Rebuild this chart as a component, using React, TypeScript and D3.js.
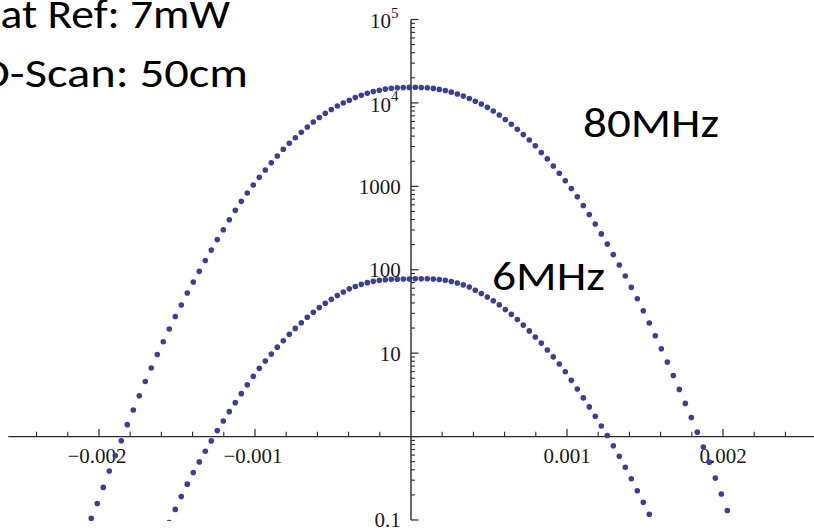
import React from "react";
import * as d3 from "d3";

// Scan positions (shared sampling grid of both series)
const positions = [
  -2.0494e-3, -2.0109e-3, -1.9725e-3, -1.934e-3, -1.8955e-3, -1.8571e-3, -1.8186e-3, -1.7802e-3, -1.7417e-3, -1.7032e-3,
  -1.6648e-3, -1.6263e-3, -1.5878e-3, -1.5494e-3, -1.5109e-3, -1.4725e-3, -1.434e-3, -1.3955e-3, -1.3571e-3, -1.3186e-3,
  -1.2802e-3, -1.2417e-3, -1.2032e-3, -1.1647e-3, -1.1263e-3, -1.0878e-3, -1.0494e-3, -1.0109e-3, -0.9724e-3, -0.934e-3,
  -0.8955e-3, -0.8571e-3, -0.8186e-3, -0.7801e-3, -0.7417e-3, -0.7032e-3, -0.6647e-3, -0.6263e-3, -0.5878e-3, -0.5494e-3,
  -0.5109e-3, -0.4724e-3, -0.434e-3, -0.3955e-3, -0.3571e-3, -0.3186e-3, -0.2801e-3, -0.2417e-3, -0.2032e-3, -0.1647e-3,
  -0.1263e-3, -0.0878e-3, -0.0494e-3, -0.0109e-3, 0.0276e-3, 0.066e-3, 0.1045e-3, 0.1429e-3, 0.1814e-3, 0.2199e-3,
  0.2583e-3, 0.2968e-3, 0.3352e-3, 0.3737e-3, 0.4122e-3, 0.4506e-3, 0.4891e-3, 0.5276e-3, 0.566e-3, 0.6045e-3,
  0.6429e-3, 0.6814e-3, 0.7199e-3, 0.7583e-3, 0.7968e-3, 0.8352e-3, 0.8737e-3, 0.9122e-3, 0.9506e-3, 0.9891e-3,
  1.0276e-3, 1.066e-3, 1.1045e-3, 1.1429e-3, 1.1814e-3, 1.2199e-3, 1.2583e-3, 1.2968e-3, 1.3352e-3, 1.3737e-3,
  1.4122e-3, 1.4506e-3, 1.4891e-3, 1.5276e-3, 1.566e-3, 1.6045e-3, 1.6429e-3, 1.6814e-3, 1.7199e-3, 1.7583e-3,
  1.7968e-3, 1.8352e-3, 1.8737e-3, 1.9122e-3, 1.9506e-3, 1.9891e-3, 2.0276e-3,
];

// 80MHz series, one value per position
const power80MHz = [
  0.1045, 0.158, 0.246, 0.386, 0.592, 0.891, 1.39, 2.08, 3.08, 4.57,
  6.63, 9.62, 13.7, 19.5, 27.5, 37.7, 52.6, 71.2, 95.7, 129,
  172, 230, 302, 398, 515, 661, 832, 1037, 1282, 1567,
  1919, 2307, 2780, 3281, 3828, 4436, 5140, 5902, 6683, 7499,
  8337, 9183, 9977, 10770, 11580, 12330, 13030, 13670, 14200, 14650,
  14970, 15180, 15310, 15350, 15380, 15310, 15180, 14930, 14520, 14060,
  13470, 12790, 12070, 11300, 10470, 9705, 8851, 8000, 7161, 6339,
  5559, 4819, 4169, 3589, 3062, 2547, 2132, 1750, 1436, 1167,
  942, 748, 589, 459, 353, 269, 203, 152, 114, 84,
  61.5, 44.9, 32.2, 23.0, 16.2, 11.3, 7.82, 5.39, 3.68, 2.5,
  1.69, 1.13, 0.748, 0.494, 0.318, 0.205, 0.13,
];

// 6MHz series, positions[13] .. positions[93]
const power6MHz = [
  0.0931, 0.134, 0.191, 0.269, 0.37, 0.497, 0.667, 0.888, 1.18, 1.54,
  1.99, 2.55, 3.27, 4.17, 5.27, 6.58, 8.04, 9.75, 11.8, 14.1,
  16.8, 19.8, 23.2, 26.9, 30.9, 35.2, 39.7, 44.3, 49.1, 54.1,
  59.0, 63.1, 66.8, 70.0, 72.6, 74.6, 75.9, 76.7, 77.1, 77.4,
  77.4, 77.8, 77.8, 77.8, 77.4, 76.5, 74.8, 72.4, 69.5, 65.9,
  62.1, 56.9, 52.0, 47.2, 42.5, 37.9, 33.4, 29.2, 25.3, 21.7,
  18.5, 15.6, 13.2, 10.9, 9.03, 7.43, 5.98, 4.72, 3.72, 2.91,
  2.27, 1.75, 1.34, 1.03, 0.778, 0.581, 0.429, 0.312, 0.224, 0.163,
  0.117,
];
const positions6MHz = positions.slice(13, 13 + power6MHz.length);

const xTickValues = [-0.002, -0.001, 0.001, 0.002];
const xTickLabels = ["\u22120.002", "\u22120.001", "0.001", "0.002"];
const yTickValues = [0.1, 10, 100, 1000, 10000, 100000];
const yTickLabels = ["0.1", "10", "100", "1000", "10^4", "10^5"];
const noteLines = ["at Ref: 7mW", "D-Scan: 50cm"];
const seriesLabels = ["80MHz", "6MHz"];

const W = 814;
const H = 530;
const DOT = "#3d3d9c";
const AXIS = "#2a2a2a";
const SERIF = "'Liberation Serif', 'Times New Roman', serif";
const SANS = "Carlito, Lato, 'Open Sans', sans-serif";

export default function App() {
  const x = d3.scaleLinear().domain([-0.00258, 0.00258]).range([8.5, 813.5]);
  const y = d3.scaleLog().domain([0.1, 1e5]).range([520, 19.5]);
  const x0 = x(0);
  const y1 = y(1);

  const xMinor = d3
    .range(-12, 13)
    .map((i) => i * 0.0002)
    .filter((v) => Math.abs(v) > 1e-9 && !xTickValues.some((t) => Math.abs(t - v) < 1e-9));
  const yMinor: number[] = [];
  for (let e = -1; e < 5; e++) for (let m = 2; m <= 9; m++) yMinor.push(m * Math.pow(10, e));
  const yMajor = [0.1, 1, 10, 100, 1000, 10000, 100000];

  const pts80 = positions.map((p, i) => [p, power80MHz[i]] as [number, number]);
  const pts6 = positions6MHz.map((p, i) => [p, power6MHz[i]] as [number, number]);

  return (
    <svg
      width={W}
      height={H}
      viewBox={`0 0 ${W} ${H}`}
      style={{ position: "absolute", left: 0, top: 0, background: "#fff" }}
    >
      <defs>
        <clipPath id="plotClip">
          <rect x={0} y={0} width={W} height={521} />
        </clipPath>
      </defs>
      <rect x={0} y={0} width={W} height={H} fill="#fff" />

      {/* x axis */}
      <line x1={8.3} x2={W} y1={y1} y2={y1} stroke={AXIS} strokeWidth={1.4} />
      {xMinor.map((v, i) => (
        <line key={"xm" + i} x1={x(v)} x2={x(v)} y1={y1} y2={y1 - 4.8} stroke={AXIS} strokeWidth={1.1} />
      ))}
      {xTickValues.map((v, i) => (
        <line key={"xM" + i} x1={x(v)} x2={x(v)} y1={y1} y2={y1 - 7.5} stroke={AXIS} strokeWidth={1.2} />
      ))}
      {xTickValues.map((v, i) => (
        <text
          key={"xl" + i}
          x={x(v) + (v < 0 ? -2 : 0)}
          y={463}
          textAnchor="middle"
          fontFamily={SERIF}
          fontSize={21}
          fill="#1a1a1a"
        >
          {xTickLabels[i]}
        </text>
      ))}

      {/* y axis */}
      <line x1={x0} x2={x0} y1={y(1e5)} y2={y(0.1)} stroke={AXIS} strokeWidth={1.4} />
      {yMinor.map((v, i) => (
        <line key={"ym" + i} x1={x0} x2={x0 + 4} y1={y(v)} y2={y(v)} stroke={AXIS} strokeWidth={1.1} />
      ))}
      {yMajor.map((v, i) => (
        <line key={"yM" + i} x1={x0} x2={x0 + 7.5} y1={y(v)} y2={y(v)} stroke={AXIS} strokeWidth={1.2} />
      ))}
      {yTickValues.map((v, i) => {
        const lab = yTickLabels[i];
        const ty = y(v);
        if (lab.includes("^")) {
          const [b, e] = lab.split("^");
          return (
            <text key={"yl" + i} x={398.5} y={ty + 8.8} textAnchor="end" fontFamily={SERIF} fontSize={21} fill="#1a1a1a">
              {b}
              <tspan dy={-10.5} fontSize={15}>
                {e}
              </tspan>
            </text>
          );
        }
        return (
          <text key={"yl" + i} x={400.7} y={ty + 7.4} textAnchor="end" fontFamily={SERIF} fontSize={21} fill="#1a1a1a">
            {lab}
          </text>
        );
      })}

      {/* data */}
      <g clipPath="url(#plotClip)">
        {pts80.map(([p, v], i) => (
          <circle key={"a" + i} cx={x(p)} cy={y(v)} r={2.8} fill={DOT} />
        ))}
        {pts6.map(([p, v], i) => (
          <circle key={"b" + i} cx={x(p)} cy={y(v)} r={2.8} fill={DOT} />
        ))}
      </g>

      {/* annotations */}
      <text x={0.5} y={28.3} fontFamily={SANS} fontSize={40} fill="#000" textLength={229.5} lengthAdjust="spacingAndGlyphs">
        {noteLines[0]}
      </text>
      <text x={-20} y={87.3} fontFamily={SANS} fontSize={40} fill="#000" textLength={268} lengthAdjust="spacingAndGlyphs">
        {noteLines[1]}
      </text>
      <text x={583} y={136.7} fontFamily={SANS} fontSize={40} fill="#000" textLength={136} lengthAdjust="spacingAndGlyphs">
        {seriesLabels[0]}
      </text>
      <text x={492} y={290} fontFamily={SANS} fontSize={40} fill="#000" textLength={113} lengthAdjust="spacingAndGlyphs">
        {seriesLabels[1]}
      </text>
    </svg>
  );
}
